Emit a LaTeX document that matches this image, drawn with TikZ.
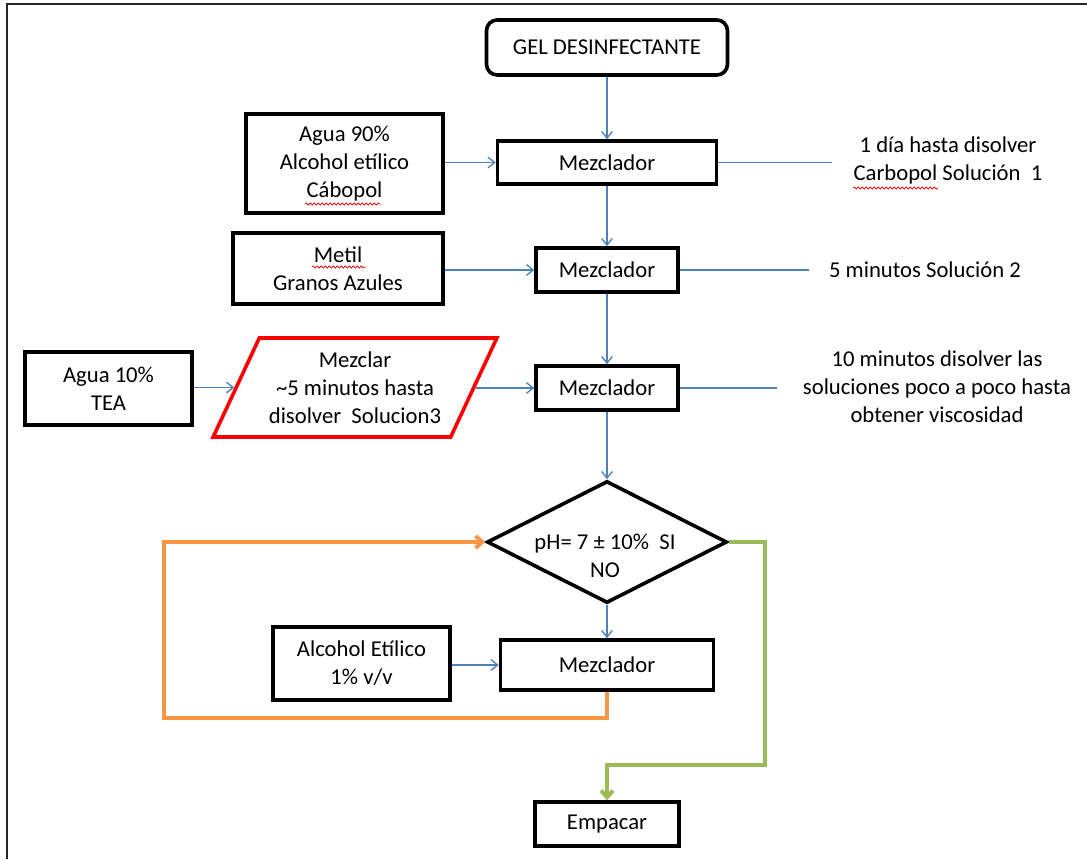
\documentclass[tikz,border=0pt]{standalone}
\usepackage{fontspec}
\setmainfont{Carlito}
\usetikzlibrary{shapes.geometric,arrows.meta,decorations.pathmorphing}

\definecolor{flowblue}{RGB}{79,129,189}
\definecolor{flowgreen}{RGB}{155,187,89}
\definecolor{floworange}{RGB}{247,150,70}
\definecolor{spellred}{RGB}{230,20,20}

\tikzset{
  sz/.style 2 args={minimum width=#1*0.75pt, minimum height=#2*0.75pt},
  procbox/.style={draw=black, line width=2.7pt, inner sep=0pt, align=center, fill=white},
  note/.style={inner sep=0pt, align=center},
  flow/.style={draw=flowblue, line width=1pt, -{Straight Barb[length=5pt,width=8pt]}},
  leader/.style={draw=flowblue, line width=1pt},
  loopback/.style={draw=floworange, line width=3pt, -{Straight Barb[length=5pt,width=9pt]}},
  accept/.style={draw=flowgreen, line width=3pt, -{Straight Barb[length=5pt,width=9pt]}},
  squiggle/.style={draw=spellred, line width=0.6pt, decorate,
                   decoration={snake, amplitude=0.8pt, segment length=3pt}},
}

\begin{document}
\begin{tikzpicture}[x=0.75pt, y=-0.75pt, font=\fontsize{17}{21}\selectfont]
  \useasboundingbox (0,0) rectangle (1087,859);

  % page frame (top and left edges)
  \draw[line width=1.8pt, black!85] (7,859) -- (7,4) -- (1087,4);

  % main column
  \node[procbox, sz={241}{55}, rounded corners=8pt] (gel) at (607,47.5) {GEL DESINFECTANTE};
  \node[procbox, sz={219}{43}] (m1) at (607,162.5) {Mezclador};
  \node[procbox, sz={142}{44}] (m2) at (607,270) {Mezclador};
  \node[procbox, sz={142}{44}] (m3) at (607,388) {Mezclador};
  \node[draw=black, line width=2.7pt, shape=diamond, inner sep=0pt, sz={240}{122}] (dec) at (607,542) {};
  \node[note] (dectext) at (605,556) {pH= 7 ± 10\%\ \ SI\\NO};
  \node[procbox, sz={213}{50}] (m4) at (607,665) {Mezclador};
  \node[procbox, sz={144}{44}] (emp) at (607,824) {Empacar};

  % inputs
  \node[procbox, sz={197}{99}] (in1) at (344.5,163.5) {Agua 90\%\\Alcohol etílico\\Cábopol};
  \node[procbox, sz={210}{71}] (in2) at (338,268.5) {Metil\\Granos Azules};
  \node[procbox, sz={167}{73}] (in3) at (108.5,388.5) {Agua 10\%\\TEA};
  \node[draw=red, line width=2.7pt, shape=trapezium, trapezium left angle=60,
        trapezium right angle=120, trapezium stretches=true, inner sep=0pt,
        align=center, sz={284}{99}] (par) at (355,387.5)
        {Mezclar\\\textasciitilde5 minutos hasta\\disolver\ \ Solucion3};
  \node[procbox, sz={177}{73}] (in4) at (361.5,663.5) {Alcohol Etílico\\1\% v/v};

  % side notes
  \node[note] (n1) at (948,160) {1 día hasta disolver\\Carbopol Solución\ \ 1};
  \node[note] (n2) at (925,270) {5 minutos Solución 2};
  \node[note] (n3) at (937,387) {10 minutos disolver las\\soluciones poco a poco hasta\\obtener viscosidad};

  % spell-check marks under flagged words
  \draw[squiggle] (305,204) -- (381,204);
  \draw[squiggle] (312,267) -- (366,267);
  \draw[squiggle] (853,188) -- (938,188);

  % vertical flow
  \draw[flow] (gel) -- (m1);
  \draw[flow] (m1) -- (m2);
  \draw[flow] (m2) -- (m3);
  \draw[flow] (m3) -- (dec);
  \draw[flow] (dec) -- (m4);

  % input arrows
  \draw[flow] (in1.east |- m1.west) -- (m1.west);
  \draw[flow] (in2.east |- m2.west) -- (m2.west);
  \draw[flow] (in3.east |- par.west) -- (par.west);
  \draw[flow] (par.east |- m3.west) -- (m3.west);
  \draw[flow] (in4.east |- m4.west) -- (m4.west);

  % note leaders
  \draw[leader, shorten >=16pt] (m1.east) -- (m1.east -| n1.west);
  \draw[leader, shorten >=15pt] (m2.east) -- (m2.east -| n2.west);
  \draw[leader, shorten >=19pt] (m3.east) -- (m3.east -| n3.west);

  % pH loop and exit
  \coordinate (oturn) at (164,718);
  \coordinate (gturn) at (765,765);
  \draw[loopback] (m4.south) |- (oturn) |- (dec.west);
  \draw[accept] (dec.east) -| (gturn) -| (emp.north);
\end{tikzpicture}
\end{document}
